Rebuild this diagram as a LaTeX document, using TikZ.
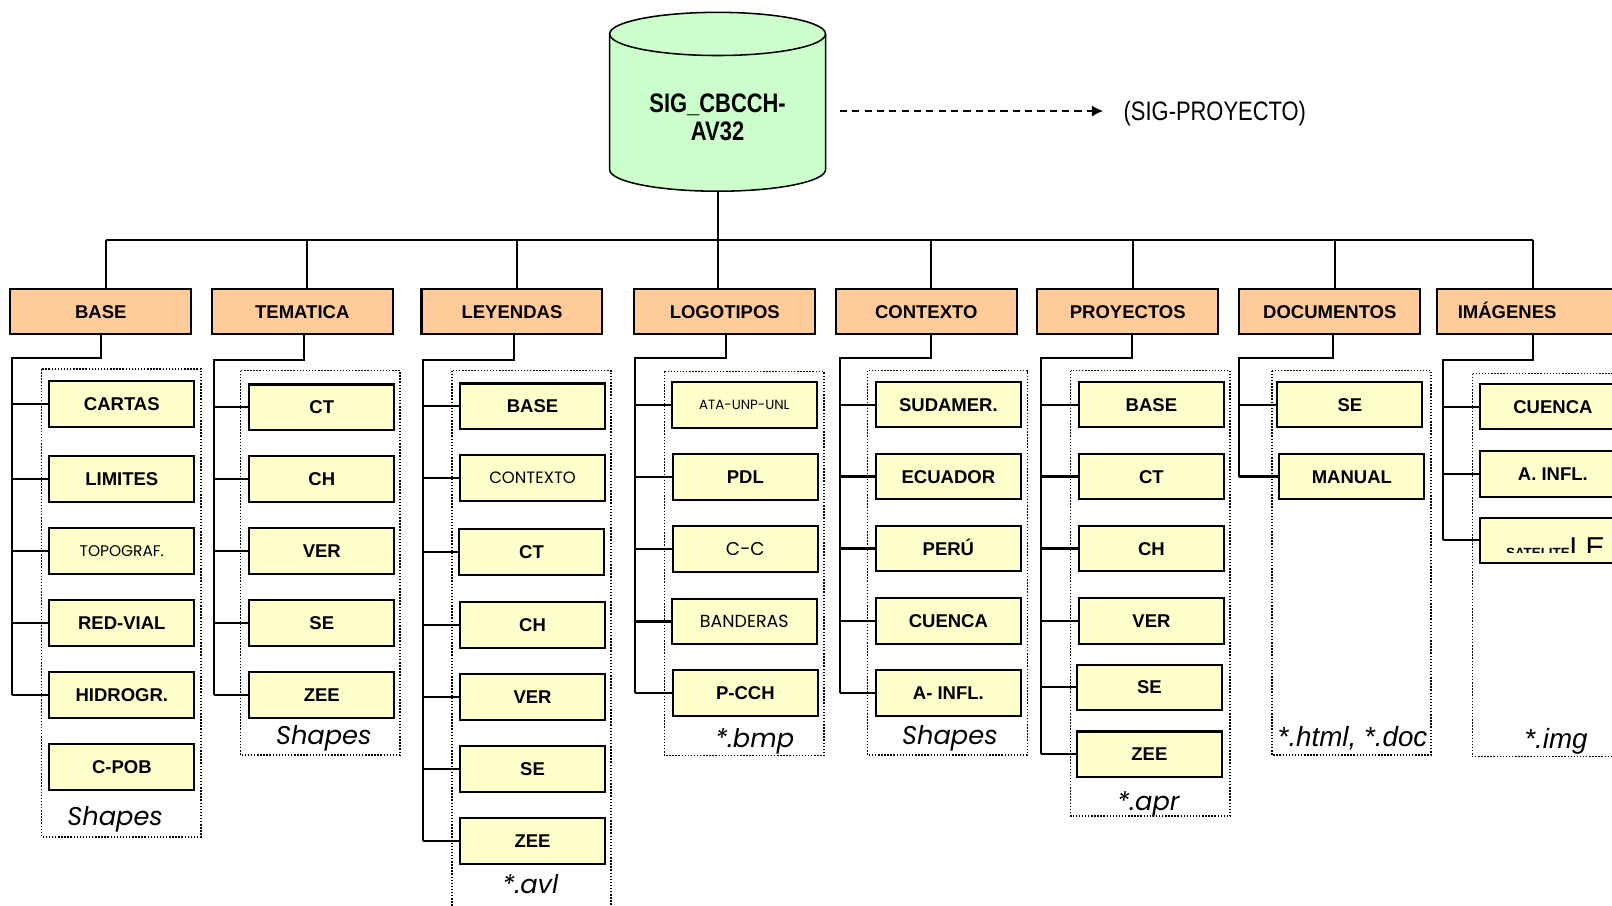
\documentclass[tikz,border=0pt]{standalone}
\usepackage{fontspec}
\setmainfont{Liberation Sans}
\newfontfamily\gothicfont{Poppins}
\newfontfamily\narrowfont[FakeStretch=0.82]{Liberation Sans}
\usetikzlibrary{arrows.meta}

\definecolor{hdrfill}{RGB}{255,204,153}
\definecolor{leaffill}{RGB}{255,255,204}
\definecolor{dbfill}{RGB}{204,255,204}

\tikzset{every picture/.style={line width=2pt}}
\tikzset{
  hdr/.style={draw, fill=hdrfill, minimum width=176pt, minimum height=44pt, inner sep=0pt, text height=13pt, text depth=0pt, font=\fontsize{18}{20}\selectfont\bfseries},
  leaf/.style={draw, fill=leaffill, minimum width=141pt, minimum height=44pt, inner sep=0pt, text height=13pt, text depth=0pt, font=\fontsize{18}{20}\selectfont\bfseries},
  lite/.style={leaf, text height=0.72*#1pt, font=\gothicfont\fontsize{#1}{#1}\selectfont},
  grp/.style={draw, line width=1.3pt, dash pattern=on 1.4pt off 1.6pt},
  ext/.style={font=\gothicfont\itshape\fontsize{25}{27}\selectfont},
  extar/.style={font=\itshape\fontsize{27}{29}\selectfont}
}

\begin{document}
\begin{tikzpicture}[x=1pt,y=1pt,yscale=-1,xscale=1]
\useasboundingbox (0,0) rectangle (1568,881);

%Database
\draw [fill=dbfill, line width=1.5] (593,33) -- (593,165) arc [start angle=180, end angle=0, x radius=105, y radius=21] -- (803,33) arc [start angle=0, end angle=-180, x radius=105, y radius=21] -- cycle ;
\draw [line width=1.5] (593,33) arc [start angle=180, end angle=0, x radius=105, y radius=21] ;
\node [font=\narrowfont\bfseries\fontsize{26}{27}\selectfont, align=center] (db) at (698,114) {SIG\_CBCCH-\\AV32} ;
\coordinate (dbbot) at (698,186) ;
\coordinate (dbr) at (817,108) ;
\node [font=\narrowfont\fontsize{26}{28}\selectfont, inner sep=0pt, anchor=west] (proj) at (1092,110) {(SIG-PROYECTO)} ;
\draw [line width=1.5, dash pattern=on 7pt off 5pt, -{Latex[length=11pt,width=11pt]}] (dbr) -- ([xshift=-19pt]proj.west |- dbr) ;

%Dotted groups
\draw [grp] (40.5,359) rectangle (195.5,814) ;
\draw [grp] (234,360.6) rectangle (389,734.5) ;
\draw [grp] (439.7,360.6) rectangle (594.4,900) ;
\draw [grp] (646.3,361.6) rectangle (801.6,735) ;
\draw [grp] (844,360.6) rectangle (999.3,734.5) ;
\draw [grp] (1041.5,360.6) rectangle (1196.5,793.8) ;
\draw [grp] (1237.4,360.6) rectangle (1392,734.5) ;
\draw [grp] (1432.2,363.5) rectangle (1590,736) ;

%Headers
\node [hdr] (BASE) at (98,303) {BASE} ;
\node [hdr] (TEMATICA) at (294,303) {TEMATICA} ;
\node [hdr] (LEYENDAS) at (498,303) {LEYENDAS} ;
\node [hdr] (LOGOTIPOS) at (705,303) {LOGOTIPOS} ;
\node [hdr] (CONTEXTO) at (901,303) {CONTEXTO} ;
\node [hdr] (PROYECTOS) at (1097,303) {PROYECTOS} ;
\node [hdr] (DOCUMENTOS) at (1293.5,303) {DOCUMENTOS} ;
\node [hdr, text width=136pt, align=left, inner xsep=20pt] (IMAGENES) at (1486,303) {IMÁGENES} ;

%BASE
\node [leaf] (base1) at (118.5,393) {CARTAS} ;
\node [leaf] (base2) at (118.5,466) {LIMITES} ;
\node [lite=15] (base3) at (118.5,536) {TOPOGRAF.} ;
\node [leaf] (base4) at (118.5,606) {RED-VIAL} ;
\node [leaf] (base5) at (118.5,676) {HIDROGR.} ;
\node [leaf] (base6) at (118.5,746) {C-POB} ;
\node [ext] (lblBASE) at (112,797) {Shapes} ;

%TEMATICA
\node [leaf] (tem1) at (313,396) {CT} ;
\node [leaf] (tem2) at (313,466) {CH} ;
\node [leaf] (tem3) at (313,536) {VER} ;
\node [leaf] (tem4) at (313,606) {SE} ;
\node [leaf] (tem5) at (313,676) {ZEE} ;
\node [ext] (lblTEM) at (315,718) {Shapes} ;

%LEYENDAS
\node [leaf] (ley1) at (518,395) {BASE} ;
\node [lite=16] (ley2) at (518,465) {CONTEXTO} ;
\node [leaf] (ley3) at (517,537) {CT} ;
\node [leaf] (ley4) at (518,608) {CH} ;
\node [leaf] (ley5) at (518,678) {VER} ;
\node [leaf] (ley6) at (518,748) {SE} ;
\node [leaf] (ley7) at (518,818) {ZEE} ;
\node [ext] (lblLEY) at (516,860) {*.avl} ;

%LOGOTIPOS
\node [lite=13] (logo1) at (724,394) {ATA-UNP-UNL} ;
\node [leaf] (logo2) at (725,464) {PDL} ;
\node [lite=18] (logo3) at (725,534) {C-C} ;
\node [lite=17] (logo4) at (724,604.5) {BANDERAS} ;
\node [leaf] (logo5) at (725,674) {P-CCH} ;
\node [ext] (lblLOGO) at (734,721) {*.bmp} ;

%CONTEXTO
\node [leaf] (ctx1) at (922.5,393.5) {SUDAMER.} ;
\node [leaf] (ctx2) at (922.5,463.5) {ECUADOR} ;
\node [leaf] (ctx3) at (922.5,533.5) {PERÚ} ;
\node [leaf] (ctx4) at (922.5,604) {CUENCA} ;
\node [leaf] (ctx5) at (922.5,674) {A- INFL.} ;
\node [ext] (lblCTX) at (924,718) {Shapes} ;

%PROYECTOS
\node [leaf] (proy1) at (1120,393.5) {BASE} ;
\node [leaf] (proy2) at (1120,463.5) {CT} ;
\node [leaf] (proy3) at (1120,533.5) {CH} ;
\node [leaf] (proy4) at (1120,604) {VER} ;
\node [leaf] (proy5) at (1118,668.5) {SE} ;
\node [leaf] (proy6) at (1118,733.5) {ZEE} ;
\node [ext] (lblPROY) at (1117,782) {*.apr} ;

%DOCUMENTOS
\node [leaf] (doc1) at (1313,393.5) {SE} ;
\node [leaf] (doc2) at (1315,463.5) {MANUAL} ;
\node [extar] (lblDOC) at (1315.6,718) {*.html, *.doc} ;

%IMAGENES
\node [leaf] (img1) at (1510.5,395.7) {CUENCA} ;
\node [leaf] (img2) at (1510.5,461) {A. INFL.} ;
\node [leaf] (img3) at (1510.5,525.6) {} ;
\begin{scope}
\clip (1441,500) rectangle (1580,537) ;
\node [anchor=base west, inner sep=0pt] (sattxt) at (1464,542) {{\fontsize{13}{13}\selectfont\bfseries SATELITE}{\fontsize{28}{28}\selectfont LE}} ;
\end{scope}
\node [extar] (lblIMG) at (1513.5,721) {*.img} ;

%Bus
\coordinate (bus) at (698,233) ;
\coordinate (dBASE) at ([xshift=5pt]BASE.north) ;
\coordinate (dTEM) at ([xshift=5pt]TEMATICA.north) ;
\coordinate (dLEY) at ([xshift=5pt]LEYENDAS.north) ;
\coordinate (dCTX) at ([xshift=5pt]CONTEXTO.north) ;
\coordinate (dPROY) at ([xshift=5pt]PROYECTOS.north) ;
\coordinate (dDOC) at ([xshift=5pt]DOCUMENTOS.north) ;
\coordinate (dIMG) at ([xshift=5pt]IMAGENES.north) ;
\draw (dbbot) -- (dbbot |- LOGOTIPOS.north) ;
\draw (dBASE |- bus) -- (dIMG |- bus) ;
\draw (dBASE) -- (dBASE |- bus) ;
\draw (dTEM) -- (dTEM |- bus) ;
\draw (dLEY) -- (dLEY |- bus) ;
\draw (dCTX) -- (dCTX |- bus) ;
\draw (dPROY) -- (dPROY |- bus) ;
\draw (dDOC) -- (dDOC |- bus) ;
\draw (dIMG) -- (dIMG |- bus) ;

%Trees
\coordinate (tBASE) at (12,348) ;
\draw (BASE.south) |- (tBASE) -- (tBASE |- base5.west) ;
\draw (tBASE |- base1.west) -- (base1.west) ;
\draw (tBASE |- base2.west) -- (base2.west) ;
\draw (tBASE |- base3.west) -- (base3.west) ;
\draw (tBASE |- base4.west) -- (base4.west) ;
\draw (tBASE |- base5.west) -- (base5.west) ;

\coordinate (tTEM) at (208,350) ;
\draw ([xshift=2pt]TEMATICA.south) |- (tTEM) -- (tTEM |- tem5.west) ;
\draw (tTEM |- tem1.west) -- (tem1.west) ;
\draw (tTEM |- tem2.west) -- (tem2.west) ;
\draw (tTEM |- tem3.west) -- (tem3.west) ;
\draw (tTEM |- tem4.west) -- (tem4.west) ;
\draw (tTEM |- tem5.west) -- (tem5.west) ;

\coordinate (tLEY) at (411,350) ;
\draw ([xshift=2pt]LEYENDAS.south) |- (tLEY) -- (tLEY |- ley7.west) ;
\draw (tLEY |- ley1.west) -- (ley1.west) ;
\draw (tLEY |- ley2.west) -- (ley2.west) ;
\draw (tLEY |- ley3.west) -- (ley3.west) ;
\draw (tLEY |- ley4.west) -- (ley4.west) ;
\draw (tLEY |- ley5.west) -- (ley5.west) ;
\draw (tLEY |- ley6.west) -- (ley6.west) ;
\draw (tLEY |- ley7.west) -- (ley7.west) ;

\coordinate (tLOGO) at (618,348) ;
\draw ([xshift=1pt]LOGOTIPOS.south) |- (tLOGO) -- (tLOGO |- logo5.west) ;
\draw (tLOGO |- logo1.west) -- (logo1.west) ;
\draw (tLOGO |- logo2.west) -- (logo2.west) ;
\draw (tLOGO |- logo3.west) -- (logo3.west) ;
\draw (tLOGO |- logo4.west) -- (logo4.west) ;
\draw (tLOGO |- logo5.west) -- (logo5.west) ;

\coordinate (tCTX) at (817,348.5) ;
\draw ([xshift=5pt]CONTEXTO.south) |- (tCTX) -- (tCTX |- ctx5.west) ;
\draw (tCTX |- ctx1.west) -- (ctx1.west) ;
\draw (tCTX |- ctx2.west) -- (ctx2.west) ;
\draw (tCTX |- ctx3.west) -- (ctx3.west) ;
\draw (tCTX |- ctx4.west) -- (ctx4.west) ;
\draw (tCTX |- ctx5.west) -- (ctx5.west) ;

\coordinate (tPROY) at (1013,348.5) ;
\draw ([xshift=4pt]PROYECTOS.south) |- (tPROY) -- (tPROY |- proy6.west) ;
\draw (tPROY |- proy1.west) -- (proy1.west) ;
\draw (tPROY |- proy2.west) -- (proy2.west) ;
\draw (tPROY |- proy3.west) -- (proy3.west) ;
\draw (tPROY |- proy4.west) -- (proy4.west) ;
\draw (tPROY |- proy5.west) -- (proy5.west) ;
\draw (tPROY |- proy6.west) -- (proy6.west) ;

\coordinate (tDOC) at (1205.5,348.5) ;
\draw ([xshift=3pt]DOCUMENTOS.south) |- (tDOC) -- (tDOC |- doc2.west) ;
\draw (tDOC |- doc1.west) -- (doc1.west) ;
\draw (tDOC |- doc2.west) -- (doc2.west) ;

\coordinate (tIMG) at (1404,350) ;
\draw ([xshift=5pt]IMAGENES.south) |- (tIMG) -- (tIMG |- img3.west) ;
\draw (tIMG |- img1.west) -- (img1.west) ;
\draw (tIMG |- img2.west) -- (img2.west) ;
\draw (tIMG |- img3.west) -- (img3.west) ;
\end{tikzpicture}
\end{document}
